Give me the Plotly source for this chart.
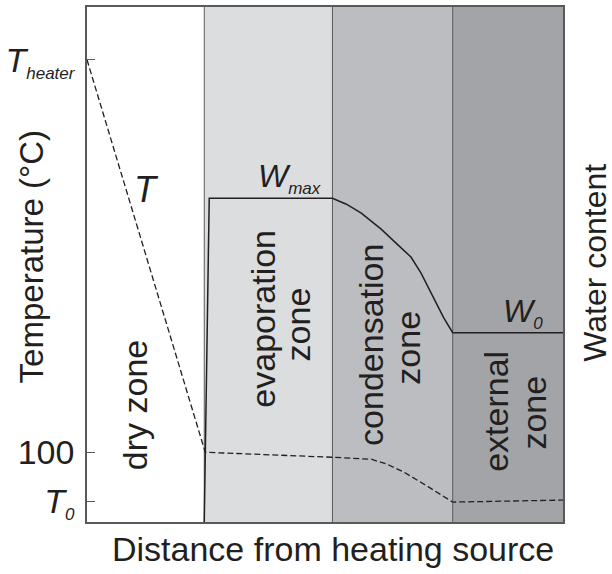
import plotly.graph_objects as go

# ---- data (x: distance units, y: temperature / water-content units) ----
zone_edges = [0, 118, 247, 368, 479]
zone_colors = ["#ffffff", "#dcdddf", "#bcbdc0", "#a3a4a7"]

temp_x = [0, 118, 119, 247, 286, 302, 319, 344, 368, 479]
temp_y = [464, 74, 70, 65, 63, 58, 50, 35, 20, 22]

water_x = [118, 123, 247, 261, 276, 296, 311, 326, 336, 349, 359, 368, 479]
water_y = [0, 325, 325, 319, 310, 294, 280, 266, 250, 225, 205, 190, 190]

tick_vals = [21, 70, 464]
tick_text = ["<i>T</i><sub><span style='font-size:17px'><i>0</i></span></sub>",
             "100",
             "<i>T</i><sub><span style='font-size:17px'><i>heater</i></span></sub>"]

zone_labels = [("dry zone", 49, 117), ("evaporation", 177, 204), ("zone", 212, 198),
               ("condensation", 285, 178), ("zone", 323, 175),
               ("external", 412, 111), ("zone", 450, 110)]

FONT = "Liberation Sans, Arial, sans-serif"
INK = "#231f20"
FRAME = "#58595b"

fig = go.Figure()

shapes = []
for i in range(4):
    shapes.append(dict(type="rect", xref="x", yref="paper", x0=zone_edges[i], x1=zone_edges[i+1],
                       y0=0, y1=1, fillcolor=zone_colors[i], line_width=0, layer="below"))
for e in zone_edges[1:-1]:
    shapes.append(dict(type="line", xref="x", yref="paper", x0=e, x1=e, y0=0, y1=1,
                       line=dict(color=FRAME, width=1), layer="below"))

fig.add_trace(go.Scatter(x=temp_x, y=temp_y, mode="lines",
                         line=dict(color=INK, width=1.3, dash="6px,3px"), showlegend=False))
fig.add_trace(go.Scatter(x=water_x, y=water_y, mode="lines",
                         line=dict(color=INK, width=1.5), showlegend=False))

ann = []
for txt, x, y in zone_labels:
    ann.append(dict(text=txt, x=x, y=y, xref="x", yref="y", showarrow=False, textangle=-90,
                    font=dict(family=FONT, size=34, color=INK), xanchor="center", yanchor="middle"))
ann.append(dict(text="<i>T</i>", x=60, y=334, xref="x", yref="y", showarrow=False,
                font=dict(family=FONT, size=36, color=INK)))
ann.append(dict(text="<i>W</i><sub><span style='font-size:17px'><i>max</i></span></sub>",
                x=170, y=345, xref="x", yref="y", showarrow=False, xanchor="left",
                font=dict(family=FONT, size=32, color=INK)))
ann.append(dict(text="<i>W</i><sub><span style='font-size:17px'><i>0</i></span></sub>",
                x=417, y=210, xref="x", yref="y", showarrow=False, xanchor="left",
                font=dict(family=FONT, size=32, color=INK)))
ann.append(dict(text="Temperature (°C)", x=-0.1169, y=0.5145, xref="paper", yref="paper",
                xanchor="center", yanchor="middle",
                showarrow=False, textangle=-90, font=dict(family=FONT, size=33, color=INK)))
ann.append(dict(text="Water content", x=1.0668, y=0.5029, xref="paper", yref="paper",
                xanchor="center", yanchor="middle",
                showarrow=False, textangle=-90, font=dict(family=FONT, size=32, color=INK)))
ann.append(dict(text="Distance from heating source", x=0.5177, y=-0.0522, xref="paper",
                yref="paper", xanchor="center", yanchor="middle",
                showarrow=False, font=dict(family=FONT, size=34, color=INK)))

fig.update_layout(
    width=612, height=574,
    margin=dict(l=84, r=49, t=5, b=52),
    paper_bgcolor="white", plot_bgcolor="white",
    shapes=shapes, annotations=ann,
    xaxis=dict(range=[0, 479], showgrid=False, zeroline=False, showticklabels=False, ticks="",
               showline=True, mirror=True, linecolor=FRAME, linewidth=1.5, fixedrange=True),
    yaxis=dict(range=[0, 517], showgrid=False, zeroline=False, tickvals=tick_vals, ticktext=tick_text,
               ticks="inside", ticklen=8, tickcolor=FRAME, tickwidth=1.2,
               tickfont=dict(family=FONT, size=34, color=INK), ticklabelstandoff=4,
               showline=True, mirror=True, linecolor=FRAME, linewidth=1.5, fixedrange=True),
)

fig.write_html("out.html")
